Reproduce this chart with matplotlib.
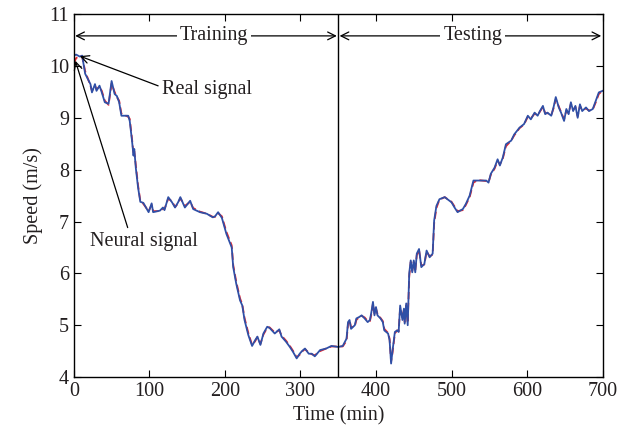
import matplotlib.pyplot as plt

plt.rcParams["font.family"] = ["Liberation Serif", "DejaVu Serif"]

time_min = [
    0, 3, 8, 11, 15, 22, 24, 28, 30, 34, 37, 41, 46, 50, 54, 57, 60, 63, 72, 74,
    77, 79, 80, 82, 85, 88, 92, 99, 103, 105, 114, 118, 120, 125, 130, 134, 138,
    141, 147, 154, 158, 167, 176, 184, 187, 191, 196, 202, 209, 211, 215, 220,
    223, 226, 231, 236, 240, 243, 247, 251, 256, 259, 266, 272, 275, 281, 286,
    290, 295, 299, 302, 306, 311, 315, 319, 326, 334, 341, 350, 356, 361, 363,
    365, 367, 372, 374, 378, 381, 385, 389, 392, 394, 396, 398, 400, 402, 406,
    409, 411, 416, 418, 420, 422, 425, 428, 430, 432, 435, 437, 438, 440, 442,
    444, 446, 448, 450, 452, 454, 457, 460, 464, 467, 471, 475, 477, 480, 484,
    491, 500, 504, 508, 515, 519, 524, 529, 535, 546, 549, 552, 557, 561, 564,
    568, 572, 579, 583, 590, 596, 601, 605, 610, 614, 617, 621, 624, 627, 632,
    635, 638, 642, 645, 649, 652, 655, 658, 661, 664, 667, 670, 673, 678, 682,
    687, 691, 695, 700,
]
real_speed = [
    10.20, 10.22, 10.18, 10.20, 9.85, 9.65, 9.49, 9.65, 9.52, 9.62, 9.49, 9.30,
    9.27, 9.71, 9.46, 9.42, 9.30, 9.04, 9.04, 8.94, 8.56, 8.27, 8.40, 8.04,
    7.66, 7.38, 7.36, 7.18, 7.35, 7.18, 7.21, 7.27, 7.22, 7.47, 7.37, 7.27,
    7.37, 7.47, 7.27, 7.40, 7.24, 7.18, 7.15, 7.08, 7.10, 7.18, 7.07, 6.76,
    6.50, 6.12, 5.80, 5.48, 5.38, 5.10, 4.81, 4.60, 4.71, 4.78, 4.62, 4.84,
    4.97, 4.95, 4.84, 4.92, 4.78, 4.68, 4.58, 4.49, 4.36, 4.45, 4.50, 4.55,
    4.45, 4.45, 4.40, 4.52, 4.55, 4.60, 4.58, 4.60, 4.74, 5.06, 5.10, 4.93,
    5.00, 5.13, 5.16, 5.19, 5.13, 5.06, 5.10, 5.26, 5.45, 5.19, 5.35, 5.19,
    5.13, 5.06, 4.90, 4.84, 4.71, 4.26, 4.52, 4.87, 4.90, 4.87, 5.38, 5.10,
    5.32, 5.03, 5.42, 5.00, 6.00, 6.25, 6.02, 6.25, 6.02, 6.38, 6.47, 6.12,
    6.18, 6.44, 6.31, 6.38, 7.02, 7.30, 7.43, 7.47, 7.37, 7.27, 7.18, 7.24,
    7.34, 7.50, 7.79, 7.79, 7.79, 7.75, 7.92, 8.04, 8.20, 8.08, 8.24, 8.49,
    8.56, 8.68, 8.81, 8.88, 9.04, 8.97, 9.10, 9.04, 9.13, 9.23, 9.07, 9.10,
    9.04, 9.20, 9.40, 9.20, 9.10, 8.94, 9.17, 9.07, 9.30, 9.13, 9.23, 9.00,
    9.26, 9.13, 9.20, 9.13, 9.17, 9.33, 9.49, 9.52,
]
# Neural network output (red dashed), nearly on top of the real signal
neural_speed = [
    10.05, 10.15, 10.20, 10.18, 9.90, 9.62, 9.52, 9.62, 9.55, 9.60, 9.52, 9.33,
    9.25, 9.66, 9.50, 9.40, 9.33, 9.08, 9.02, 8.98, 8.60, 8.30, 8.36, 8.10,
    7.70, 7.40, 7.34, 7.20, 7.32, 7.20, 7.20, 7.25, 7.24, 7.44, 7.39, 7.28,
    7.35, 7.45, 7.30, 7.38, 7.26, 7.19, 7.15, 7.09, 7.09, 7.16, 7.10, 6.80,
    6.54, 6.16, 5.84, 5.52, 5.40, 5.14, 4.85, 4.62, 4.69, 4.77, 4.64, 4.82,
    4.95, 4.96, 4.86, 4.90, 4.80, 4.70, 4.60, 4.51, 4.38, 4.43, 4.49, 4.54,
    4.47, 4.44, 4.42, 4.50, 4.55, 4.59, 4.59, 4.59, 4.70, 5.02, 5.10, 4.96,
    4.98, 5.10, 5.16, 5.18, 5.15, 5.08, 5.08, 5.22, 5.42, 5.22, 5.32, 5.22,
    5.14, 5.08, 4.93, 4.85, 4.74, 4.30, 4.48, 4.84, 4.90, 4.88, 5.34, 5.14,
    5.30, 5.06, 5.38, 5.04, 5.94, 6.22, 6.05, 6.22, 6.05, 6.35, 6.45, 6.15,
    6.17, 6.42, 6.33, 6.36, 6.96, 7.26, 7.42, 7.47, 7.38, 7.29, 7.20, 7.22,
    7.32, 7.47, 7.75, 7.80, 7.78, 7.76, 7.90, 8.02, 8.17, 8.10, 8.22, 8.45,
    8.56, 8.66, 8.80, 8.87, 9.02, 8.99, 9.08, 9.05, 9.12, 9.21, 9.09, 9.09,
    9.05, 9.18, 9.36, 9.22, 9.11, 8.97, 9.14, 9.09, 9.27, 9.15, 9.21, 9.03,
    9.23, 9.15, 9.18, 9.14, 9.16, 9.30, 9.46, 9.52,
]

TEXT_COLOR = "#231f20"
FS = 14.5

fig = plt.figure(figsize=(6.31, 4.41), dpi=100)
ax = fig.add_axes([0.117, 0.145, 0.838, 0.823])

ax.plot(time_min, neural_speed, color="#e8262d", lw=1.3, ls=(0, (4, 2)))
ax.plot(time_min, real_speed, color="#2f4fa6", lw=1.3)

ax.axvline(350, color="black", lw=1.0)

# Training / Testing span arrows
for x0, x1, xc, label in [(0, 350, 186, "Training"), (350, 700, 528, "Testing")]:
    ax.annotate("", xy=(x1, 10.58), xytext=(x0, 10.58),
                arrowprops=dict(arrowstyle="<->", lw=0.9, color="black",
                                shrinkA=1, shrinkB=1, mutation_scale=14))
    ax.text(xc, 10.58, label, ha="center", va="center", fontsize=FS,
            color=TEXT_COLOR,
            bbox=dict(facecolor="white", edgecolor="none", pad=2))

ax.annotate("Real signal", xy=(8, 10.19), xytext=(117, 9.55),
            fontsize=FS, color=TEXT_COLOR, va="center", ha="left",
            arrowprops=dict(arrowstyle="->", lw=0.9, color="black",
                            shrinkA=1, shrinkB=0, mutation_scale=14,
                            relpos=(0.0, 0.6)))
ax.annotate("Neural signal", xy=(2, 10.1), xytext=(93, 6.62),
            fontsize=FS, color=TEXT_COLOR, va="center", ha="center",
            arrowprops=dict(arrowstyle="->", lw=0.9, color="black",
                            shrinkA=1, shrinkB=0, mutation_scale=14,
                            relpos=(0.36, 1.0)))

ax.set_xlim(0, 700)
ax.set_ylim(4, 11)
ax.set_xticks(range(0, 701, 100))
ax.set_yticks(range(4, 12))
ax.tick_params(direction="in", top=True, right=True, labelsize=FS,
               color="black", labelcolor=TEXT_COLOR, length=5)
ax.set_xlabel("Time (min)", fontsize=FS, color=TEXT_COLOR)
ax.set_ylabel("Speed (m/s)", fontsize=FS, color=TEXT_COLOR)
for sp in ax.spines.values():
    sp.set_linewidth(1.0)

fig.savefig("out.png", dpi=100)
